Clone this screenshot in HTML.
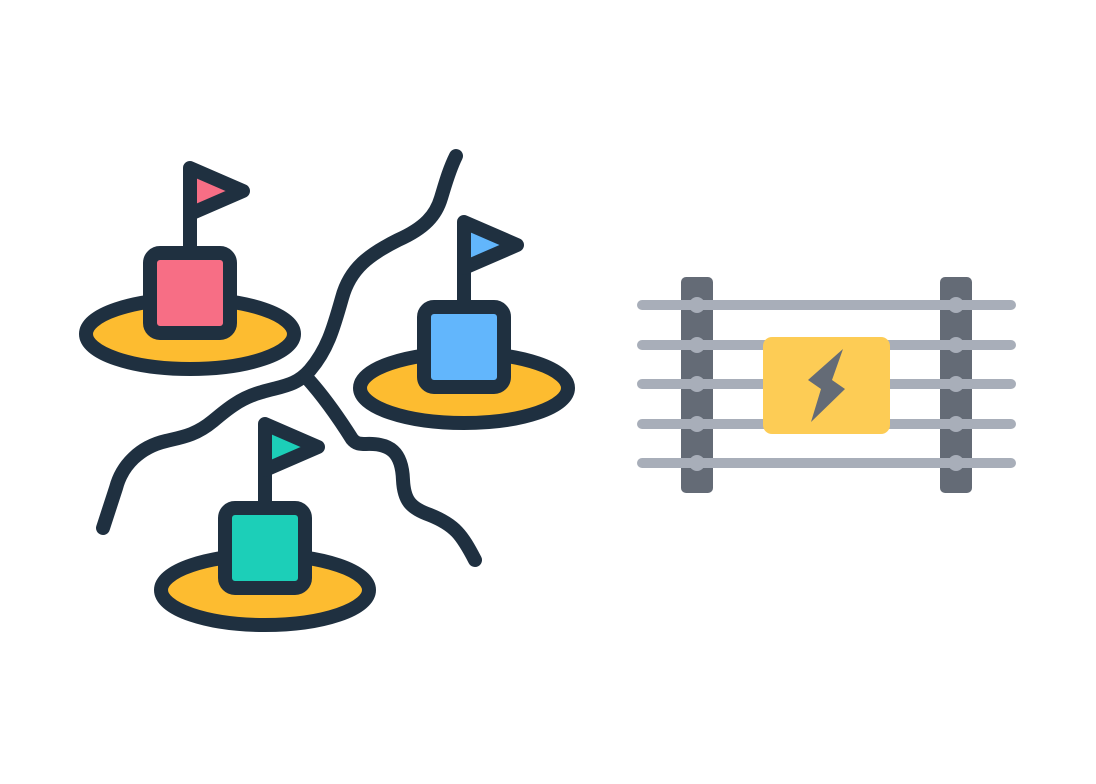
<!DOCTYPE html>
<html><head><meta charset="utf-8"><style>html,body{margin:0;padding:0;background:#fff}svg{display:block}</style></head>
<body>
<svg width="1096" height="784" viewBox="0 0 1096 784" xmlns="http://www.w3.org/2000/svg">
<g fill="none" stroke="#1f3040" stroke-width="14" stroke-linecap="round" stroke-linejoin="round">
  <!-- river -->
  <path d="M456,156 C449,170 445,185 441,198 C436,215 425,228 398,240 C370,254 350,268 342,298 C333,330 327,350 310,370 C296,386 282,386 262,392 C240,398 226,410 213,421 C196,435 183,437 166,441 C140,447 122,465 116,488 L103,528"/>
  <path d="M307,378 C325,398 340,420 352,439 C356,444 360,444 366,444 C390,443 402,452 403,480 C404,500 410,508 430,515 C455,525 462,535 475,560"/>
</g>
<g stroke="#1f3040" stroke-width="14" stroke-linejoin="round">
  <!-- pink -->
  <ellipse cx="190" cy="334" rx="104" ry="35" fill="#fdbc30"/>
  <line x1="190" y1="168" x2="190" y2="250"/>
  <polygon points="190,168 243,191 190,214" fill="#f76e85"/>
  <rect x="150" y="253" width="80" height="80" rx="10" fill="#f76e85"/>
  <!-- blue -->
  <ellipse cx="464" cy="388" rx="104" ry="35" fill="#fdbc30"/>
  <line x1="464" y1="222" x2="464" y2="304"/>
  <polygon points="464,222 517,245 464,268" fill="#62b6fc"/>
  <rect x="424" y="307" width="80" height="80" rx="10" fill="#62b6fc"/>
  <!-- green -->
  <ellipse cx="265" cy="590" rx="104" ry="35" fill="#fdbc30"/>
  <line x1="265" y1="424" x2="265" y2="505"/>
  <polygon points="265,424 318,447 265,470" fill="#1ccfb8"/>
  <rect x="225" y="508" width="80" height="80" rx="10" fill="#1ccfb8"/>
</g>
<!-- fence -->
<rect x="681" y="277" width="32" height="216" rx="5" fill="#646b76"/>
<rect x="940" y="277" width="32" height="216" rx="5" fill="#646b76"/>
<g stroke="#a8aeb9" stroke-width="10" stroke-linecap="round">
  <line x1="642" y1="305" x2="1011" y2="305"/>
  <line x1="642" y1="345" x2="1011" y2="345"/>
  <line x1="642" y1="384" x2="1011" y2="384"/>
  <line x1="642" y1="424" x2="1011" y2="424"/>
  <line x1="642" y1="463" x2="1011" y2="463"/>
</g>
<g fill="#a8aeb9">
  <circle cx="697" cy="305" r="8"/><circle cx="697" cy="345" r="8"/><circle cx="697" cy="384" r="8"/><circle cx="697" cy="424" r="8"/><circle cx="697" cy="463" r="8"/>
  <circle cx="956" cy="305" r="8"/><circle cx="956" cy="345" r="8"/><circle cx="956" cy="384" r="8"/><circle cx="956" cy="424" r="8"/><circle cx="956" cy="463" r="8"/>
</g>
<rect x="763" y="337" width="127" height="97" rx="9" fill="#fdcc55"/>
<polygon points="843,349 808,380 821,389 811,422 845,389 832,380" fill="#646b76"/>
</svg>
</body></html>
